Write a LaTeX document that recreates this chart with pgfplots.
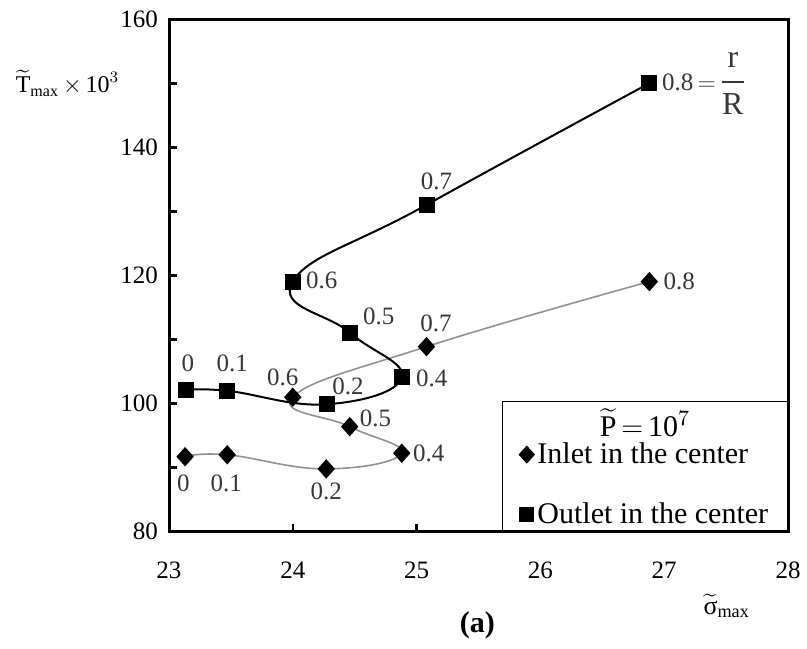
\documentclass[border=0pt]{standalone}
\usepackage{amsmath}
\usepackage{pgfplots}
\usepackage{pgfplotstable}
\pgfplotsset{compat=1.18}
\usepackage{fontspec}
\setmainfont{Liberation Serif}

\definecolor{curvegray}{RGB}{145,145,145}
\definecolor{labelgray}{RGB}{55,55,55}

% maximum stress and temperature along the radius, r/R in the last column
\pgfplotstableread{
s      T       r
23.13  91.70   0
23.47  92.00   0.1
24.27  89.80   0.2
24.88  92.25   0.4
24.46  96.40   0.5
24.00  101.00  0.6
25.08  108.90  0.7
26.88  119.06  0.8
}\inlet
\pgfplotstableread{
s      T       r
23.14  102.10  0
23.47  102.00  0.1
24.28  99.90   0.2
24.88  104.10  0.4
24.46  111.10  0.5
24.00  119.06  0.6
25.08  131.05  0.7
26.88  150.06  0.8
}\outlet

\newcommand\lbl[4]{\node[labelgray,inner sep=0pt,anchor=center,font=\fontsize{12.5}{14}\selectfont]
  at ([xshift=#2pt,yshift=#3pt]axis cs:#1) {#4};}

\begin{document}
\begin{tikzpicture}
\begin{axis}[
  scale only axis,
  width=309.5pt, height=256pt,
  xmin=23, xmax=28, ymin=80, ymax=160,
  xtick={23,24,...,28},
  ytick={80,100,...,160},
  minor ytick={90,110,130,150},
  tick pos=left,
  tick align=inside,
  major tick length=4pt, minor tick length=4pt,
  tick style={black, line width=1.2pt},
  axis line style={line width=1.5pt},
  /pgf/number format/assume math mode=true,
  ticklabel style={font=\fontsize{12.5}{14}\selectfont},
  xticklabel style={yshift=-11.6pt},
  yticklabel style={xshift=-2pt},
  clip=false,
  legend cell align=left,
  legend style={draw=none, fill=none, at={(rel axis cs:0.565,0.092)}, anchor=west,
    font=\fontsize{15}{17}\selectfont, row sep=15pt, inner sep=0pt,
    nodes={inner sep=1.5pt}, /tikz/every even column/.style={column sep=2pt}},
  legend image code/.code={\draw[#1] plot coordinates {(0pt,0pt)};},
]
% legend panel in the lower right corner
\fill[white] ([yshift=0.75pt]rel axis cs:0.539,0) rectangle ([xshift=-0.75pt]rel axis cs:1,0.254);
\draw[line width=0.6pt] ([yshift=0.75pt]rel axis cs:0.539,0) |- ([xshift=-0.75pt]rel axis cs:1,0.254);
\node[font=\fontsize{15}{17}\selectfont] at (rel axis cs:0.769,0.212)
  {$\widetilde{\mathrm{P}}\,{=}\,\mathrm{10}^{7}$};

\addplot[curvegray, line width=0.8pt, smooth, tension=0.75, mark=diamond*,
  mark size=4.25pt, mark options={black, fill=black, xscale=1.2}, forget plot]
  table[x=s, y=T] {\inlet};
\addplot[black, line width=1pt, smooth, tension=0.75, mark=square*,
  mark size=3.5pt, mark options={black, fill=black}, forget plot]
  table[x=s, y=T] {\outlet};

\addlegendimage{only marks, mark=diamond*, mark size=4.25pt, mark options={black, fill=black, xscale=1.2}}
\addlegendentry{Inlet in the center}
\addlegendimage{only marks, mark=square*, mark size=3.5pt, mark options={black, fill=black}}
\addlegendentry{Outlet in the center}

% r/R values beside the outlet points
\lbl{23.14,102.10}{0.8}{13.3}{0}
\lbl{23.47,102.00}{2.5}{13.7}{0.1}
\lbl{24.28,99.90}{10.3}{8.7}{0.2}
\lbl{24.88,104.10}{15}{-0.5}{0.4}
\lbl{24.46,111.10}{14.5}{8}{0.5}
\lbl{24.00,119.06}{14.5}{0.8}{0.6}
\lbl{25.08,131.05}{5}{11.7}{0.7}
\node[labelgray,inner sep=0pt,anchor=west,font=\fontsize{12.5}{14}\selectfont]
  at ([xshift=6.2pt]axis cs:26.88,150.06)
  {0.8\,${=}\,${\fontsize{16}{18}\selectfont$\dfrac{\mathrm{r}}{\mathrm{R}}$}};
% r/R values beside the inlet points
\lbl{23.13,91.70}{-0.8}{-13.3}{0}
\lbl{23.47,92.00}{-0.5}{-14.2}{0.1}
\lbl{24.27,89.80}{0}{-11.4}{0.2}
\lbl{24.88,92.25}{13.5}{0}{0.4}
\lbl{24.46,96.40}{12.9}{4.2}{0.5}
\lbl{24.00,101.00}{-5}{10}{0.6}
\lbl{25.08,108.90}{4.7}{11.4}{0.7}
\lbl{26.88,119.06}{15}{0}{0.8}

% axis titles and panel tag
\node[font=\fontsize{12}{14}\selectfont] at (rel axis cs:-0.164,0.876)
  {$\widetilde{\mathrm{T}}_{\mathrm{max}}\,{\times}\,\mathrm{10}^{3}$};
\node[font=\fontsize{13}{15}\selectfont] at (rel axis cs:0.901,-0.145)
  {$\widetilde{\text{σ}}_{\mathrm{max}}$};
\node[font=\bfseries\fontsize{15}{17}\selectfont] at (rel axis cs:0.498,-0.182) {(a)};
\end{axis}
\pgfresetboundingbox
\path (-84.5pt,-58.2pt) rectangle (319pt,265.8pt);
\end{tikzpicture}
\end{document}
